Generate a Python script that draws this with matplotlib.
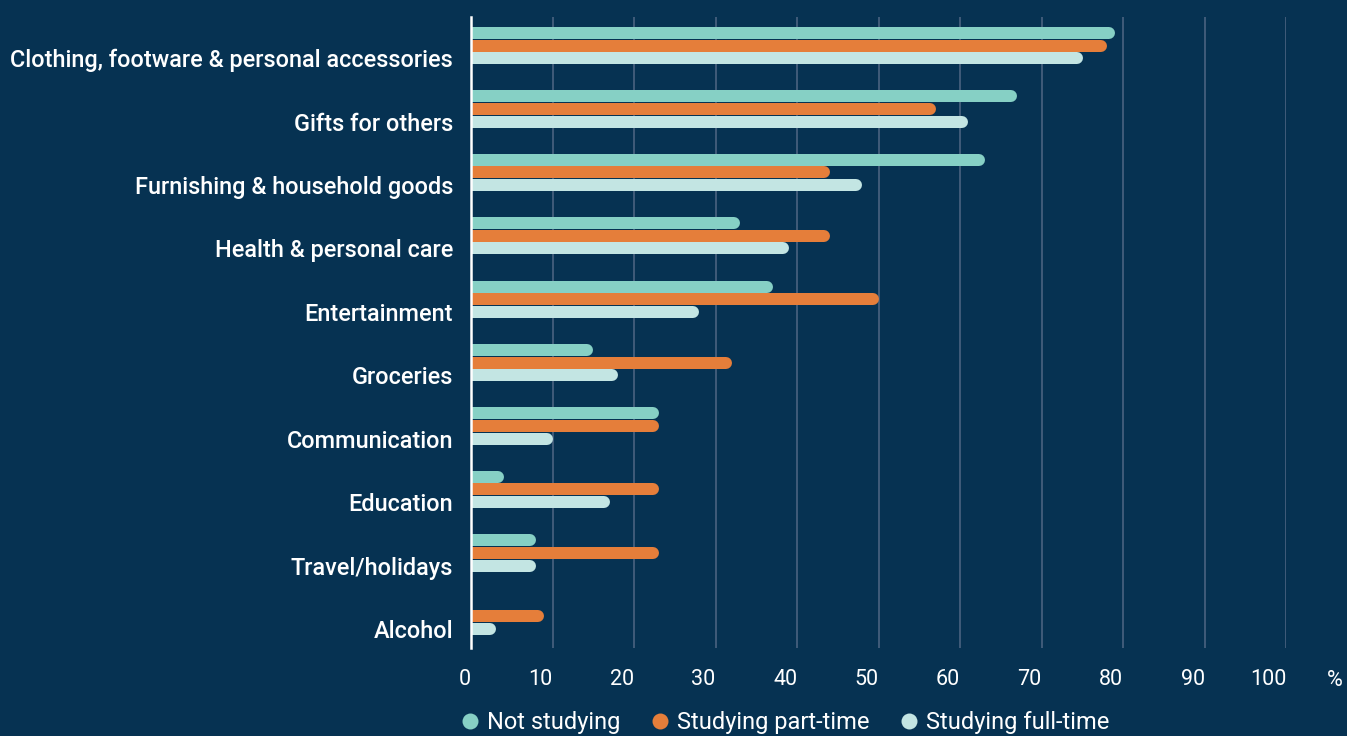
import matplotlib
matplotlib.use("Agg")
import matplotlib.pyplot as plt
from matplotlib.lines import Line2D
import numpy as np

categories = ["Clothing, footware & personal accessories", "Gifts for others",
              "Furnishing & household goods", "Health & personal care",
              "Entertainment", "Groceries", "Communication", "Education",
              "Travel/holidays", "Alcohol"]
not_studying = [79, 67, 63, 33, 37, 15, 23, 4, 8, 0]
part_time = [78, 57, 44, 44, 50, 32, 23, 23, 23, 9]
full_time = [75, 61, 48, 39, 28, 18, 10, 17, 8, 3]
series_names = ["Not studying", "Studying part-time", "Studying full-time"]
xticks = list(range(0, 101, 10))

bg = "#063252"
colors = ["#86d0c5", "#e57e3a", "#c3e5e3"]

plt.rcParams['font.family'] = ['Roboto', 'DejaVu Sans']

fig = plt.figure(figsize=(13.47, 7.36), dpi=100, facecolor=bg)
ax = fig.add_axes([0.3497, 0.1196, 0.6053, 0.8573], facecolor=bg)
ax.set_xlim(0, 100)
ax.set_ylim(9.3, -0.65)

# bar thickness in points and cap radius in data units
lw = 12.0 * 72 / 100
ax_w_px = 0.6053 * 1347
r = (lw / 72 * 100 / 2) / ax_w_px * 100

y = np.arange(len(categories))
offsets = [-0.4, -0.2, 0.0]
for vals, off, c in zip([not_studying, part_time, full_time], offsets, colors):
    for yi, v in zip(y, vals):
        if v <= 0:
            continue
        ax.plot([-r, v - r], [yi + off, yi + off], color=c, lw=lw,
                solid_capstyle='round', zorder=3)

ax.set_xticks(xticks)
ax.set_xticklabels([str(t) for t in xticks], fontsize=15.5, color="white")
for lab in ax.get_xticklabels():
    lab.set_ha('right')
ax.tick_params(axis='x', length=0, pad=15)
ax.set_yticks(y)
ax.set_yticklabels(categories, fontsize=16.9, color="white", fontweight='medium')
ax.tick_params(axis='y', length=0, pad=13)

ax.grid(axis='x', color="#4a6380", lw=1.2, zorder=1)
ax.set_axisbelow(True)
for s in ['top', 'right', 'bottom']:
    ax.spines[s].set_visible(False)
ax.spines['left'].set_color('white')
ax.spines['left'].set_linewidth(1.8)
ax.spines['left'].set_zorder(4)

ax.text(1.059, -0.035, "%", transform=ax.transAxes, fontsize=15.5,
        color="white", ha='center', va='top')

handles = [Line2D([], [], marker='o', ls='none', markersize=11.5,
                  markerfacecolor=c, markeredgecolor='none') for c in colors]
fig.legend(handles, series_names, loc='center', bbox_to_anchor=(0.581, 0.018),
           ncol=3, frameon=False, fontsize=17, labelcolor='white',
           handletextpad=0.1, columnspacing=1.1, handlelength=1.2)

fig.savefig("out.png", facecolor=bg)
